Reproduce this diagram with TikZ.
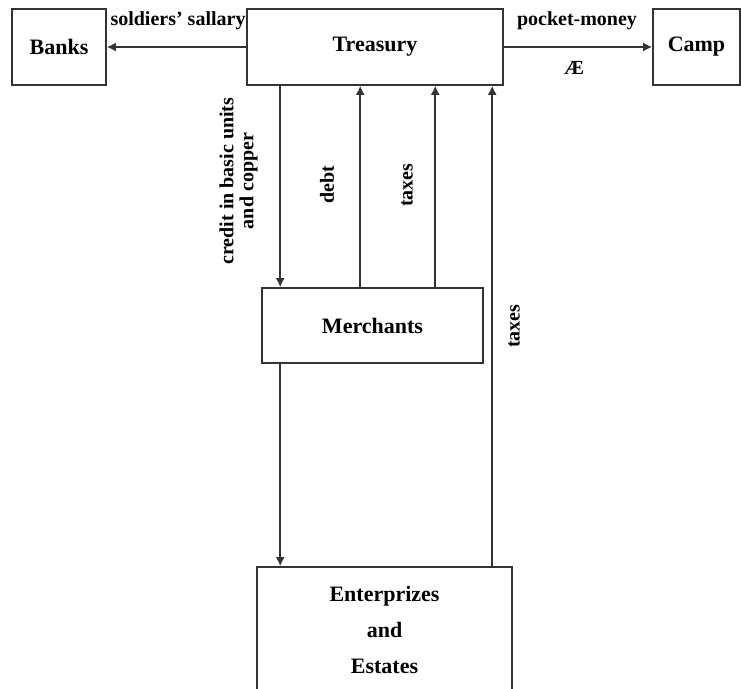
\documentclass[tikz,border=0pt]{standalone}
\usepackage{fontspec}
\setmainfont{Liberation Serif}
\usetikzlibrary{arrows.meta}
\begin{document}
\begin{tikzpicture}[x=1pt,y=-1pt,line width=1.6pt,draw=black!80]
\tikzset{box/.style={draw,font=\fontsize{22}{36}\selectfont\bfseries,align=center,inner sep=0pt},
  lbl/.style={font=\fontsize{20}{20}\selectfont\bfseries,inner sep=0pt},
  arr/.style={-{Latex[length=9pt,width=9pt]}}}
\useasboundingbox (0,0) rectangle (741,688);
\node[box,minimum width=94,minimum height=76] (banks) at (59,47){Banks};
\node[box,minimum width=256,minimum height=76] (treasury) at (375,47){Treasury};
\node[box,minimum width=87,minimum height=76] (camp) at (696.5,47){Camp};
\node[box,minimum width=221,minimum height=75] (merchants) at (372.5,325.5){Merchants};
\node[box,minimum width=255,minimum height=125] (enterprizes) at (384.5,629.5){Enterprizes\\and\\Estates};
% top row
\draw[arr] (treasury.west)--(banks.east);
\draw[arr] (treasury.east)--(camp.west);
\node[lbl] at (178,21){soldiers’ sallary};
\node[lbl] at (577,21){pocket-money};
\node[lbl] at (574,68){Æ};
% treasury and merchants
\draw[arr] ([xshift=34]treasury.south west)--([xshift=19]merchants.north west);
\draw[arr] ([xshift=99]merchants.north west)--([xshift=114]treasury.south west);
\draw[arr] ([xshift=174]merchants.north west)--([xshift=189]treasury.south west);
\node[lbl,rotate=90,align=center] at (238.5,181){credit in basic units\\and copper};
\node[lbl,rotate=90] at (327,185){debt};
\node[lbl,rotate=90] at (407,185){taxes};
% enterprizes
\draw[arr] ([xshift=19]merchants.south west)--([xshift=24]enterprizes.north west);
\draw[arr] ([xshift=236]enterprizes.north west)--([xshift=246]treasury.south west);
\node[lbl,rotate=90] at (514,326){taxes};
\end{tikzpicture}
\end{document}
